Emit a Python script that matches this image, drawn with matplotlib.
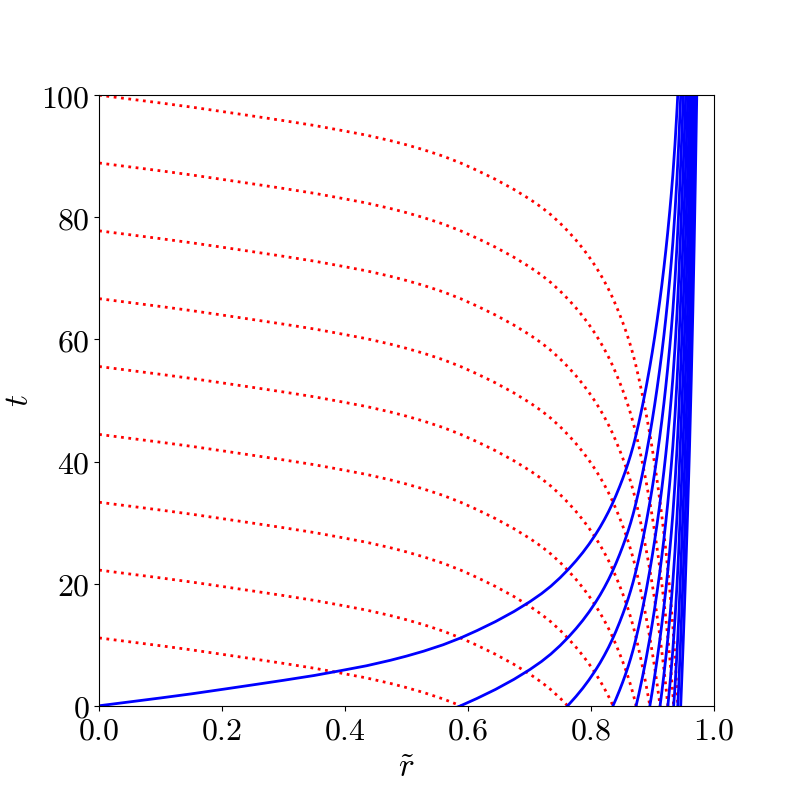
import numpy as np
import matplotlib
matplotlib.use("Agg")
import matplotlib.pyplot as plt
from matplotlib.ticker import FuncFormatter

# Base null-ray curve t(r~) (outgoing ray from the origin)
r_base = [0.0, 0.05, 0.10, 0.15, 0.2035, 0.25, 0.30, 0.35, 0.393, 0.435,
          0.474, 0.50, 0.528, 0.56, 0.588, 0.615, 0.645, 0.675, 0.701, 0.72,
          0.735, 0.75, 0.764, 0.776, 0.787, 0.797, 0.807, 0.815, 0.822, 0.829,
          0.835, 0.841, 0.847, 0.852, 0.857, 0.861, 0.865, 0.869, 0.8725, 0.878,
          0.884, 0.890, 0.896, 0.900, 0.904, 0.908, 0.912, 0.9155, 0.919, 0.922,
          0.925, 0.9285, 0.931, 0.9335, 0.937, 0.9405, 0.943, 0.9455, 0.948, 0.950,
          0.952, 0.954, 0.9575, 0.9607, 0.9635, 0.966, 0.9682, 0.9702, 0.972, 0.9735]
t_base = [0.0, 0.64, 1.28, 1.95, 2.73, 3.42, 4.17, 4.96, 5.75, 6.55,
          7.45, 8.13, 8.94, 10.0, 11.1, 12.32, 13.79, 15.44, 17.05, 18.38,
          19.58, 20.96, 22.4, 23.75, 25.1, 26.45, 27.93, 29.23, 30.47, 31.81,
          33.07, 34.44, 35.91, 37.22, 38.62, 39.82, 41.12, 42.54, 43.9, 46.27,
          49.09, 52.15, 55.48, 57.88, 60.44, 63.18, 66.1, 68.83, 71.77, 74.47,
          77.35, 80.99, 83.82, 86.94, 91.95, 98.0, 103.0, 109.0, 115.3, 120.5,
          126.0, 131.8, 142.5, 153.5, 164.5, 175.5, 186.5, 197.5, 208.5, 217.0]

# Time offsets of the rays (outgoing: start at t=0; ingoing: reach r=0 at t0)
blue_offsets = [0.0, 11.11, 22.22, 33.33, 44.44, 55.56, 66.67, 77.78, 88.89, 100.0, 111.11]
red_offsets = [11.11, 22.22, 33.33, 44.44, 55.56, 66.67, 77.78, 88.89, 100.0]

x_ticks = [0.0, 0.2, 0.4, 0.6, 0.8, 1.0]
y_ticks = [0, 20, 40, 60, 80, 100]

plt.rcParams['mathtext.fontset'] = 'cm'
plt.rcParams['font.family'] = 'serif'

fig, ax = plt.subplots(figsize=(7.93, 7.93), dpi=100)
fig.subplots_adjust(left=0.125, right=0.9, bottom=0.11, top=0.88)

r = np.array(r_base)
tb = np.array(t_base)
for c in red_offsets:
    ax.plot(r, c - tb, color='red', linestyle=':', linewidth=2)
for c in blue_offsets:
    ax.plot(r, tb - c, color='blue', linestyle='-', linewidth=2)

ax.set_xlim(0, 1)
ax.set_ylim(0, 100)
ax.set_xticks(x_ticks)
ax.set_yticks(y_ticks)
ax.xaxis.set_major_formatter(FuncFormatter(lambda v, p: r'$%.1f$' % v))
ax.yaxis.set_major_formatter(FuncFormatter(lambda v, p: r'$%d$' % round(v)))
ax.tick_params(labelsize=23)
ax.set_xlabel(r'$\tilde{r}$', fontsize=24)
ax.set_ylabel(r'$t$', fontsize=24)

fig.savefig('out.png', dpi=100)
